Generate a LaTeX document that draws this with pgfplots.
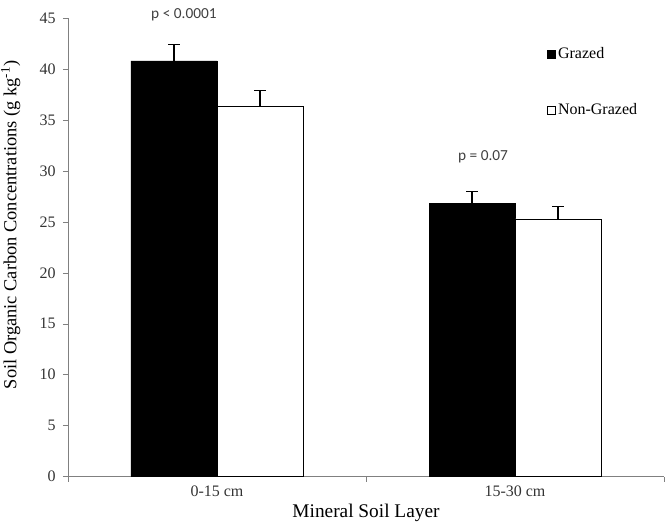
\documentclass[border=0pt]{standalone}
\usepackage{pgfplots}
\pgfplotsset{compat=1.18}
\usepackage{fontspec}
\setmainfont{Liberation Serif}
\newfontfamily\pfont{Carlito}
\begin{document}
\begin{tikzpicture}
\begin{axis}[
  width=447pt, height=344pt, scale only axis,
  xmin=0, xmax=2, ymin=0, ymax=45,
  axis lines=left,
  x axis line style={-, gray},
  y axis line style={-, gray},
  tick style={gray, thin},
  tick align=outside,
  major tick length=3.75pt,
  /pgf/number format/assume math mode=true,
  xtick={0,1,2}, xticklabels={},
  extra x ticks={0.5,1.5},
  extra x tick labels={0-15 cm,15-30 cm},
  extra x tick style={major tick length=0pt},
  ytick={0,5,...,45},
  ticklabel style={font=\fontsize{12}{14}\selectfont, text=black!80},
  yticklabel style={xshift=-2pt},
  xticklabel style={yshift=-3pt},
  xlabel={Mineral Soil Layer},
  ylabel={Soil Organic Carbon Concentrations (g kg\textsuperscript{-1})},
  xlabel style={font=\fontsize{14.5}{17}\selectfont, yshift=5pt},
  ylabel style={font=\fontsize{13.8}{16}\selectfont, at={(ticklabel cs:0.549)}, yshift=7.5pt},
  clip=false,
  legend style={draw=none, fill=none, at={(0.803,0.942)}, anchor=north west,
    font=\fontsize{12}{14}\selectfont, row sep=28pt, inner sep=0pt,
    cells={anchor=west}},
]
\addplot[ybar, bar shift=0pt, bar width=64.5pt, fill=black, draw=black, forget plot,
  error bars/.cd, y dir=plus, y explicit,
  error bar style={black, line width=0.8pt},
  error mark options={rotate=90, mark size=4.5pt, black, line width=0.8pt}]
  coordinates {(0.3557,40.8) +- (0,1.6) (1.3557,26.8) +- (0,1.2)};
\addplot[ybar, bar shift=0pt, bar width=64.5pt, fill=white, draw=black, forget plot,
  error bars/.cd, y dir=plus, y explicit,
  error bar style={black, line width=0.8pt},
  error mark options={rotate=90, mark size=4.5pt, black, line width=0.8pt}]
  coordinates {(0.6443,36.3) +- (0,1.6) (1.6443,25.3) +- (0,1.2)};
\addlegendimage{legend image code/.code={\draw[black, fill=black] (0pt,-3pt) rectangle (6pt,3pt);}}
\addlegendentry{Grazed}
\addlegendimage{legend image code/.code={\draw[black, fill=white] (0pt,-3pt) rectangle (6pt,3pt);}}
\addlegendentry{Non-Grazed}
\node[font=\pfont\fontsize{11.5}{13}\selectfont, text=black!75] at (axis cs:0.389,45.3) {p < 0.0001};
\node[font=\pfont\fontsize{11.5}{13}\selectfont, text=black!75] at (axis cs:1.393,31.4) {p = 0.07};
\coordinate (bl) at (rel axis cs:0,0);
\coordinate (tr) at (rel axis cs:1,1);
\end{axis}
\pgfresetboundingbox
\path[use as bounding box] ([xshift=-51pt,yshift=-36pt]bl) rectangle ([xshift=1.5pt,yshift=13.5pt]tr);
\end{tikzpicture}
\end{document}
